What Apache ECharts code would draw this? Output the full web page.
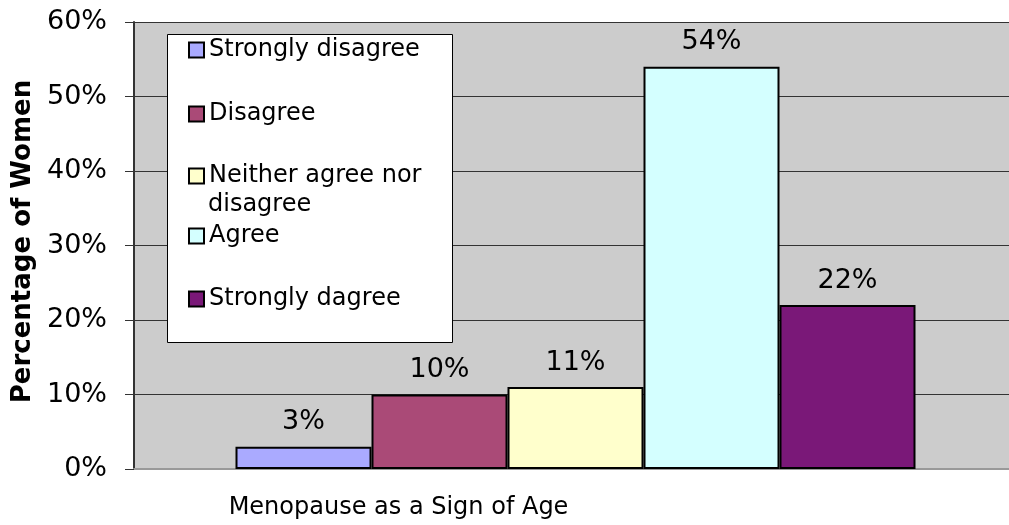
<!DOCTYPE html>
<html>
<head>
<meta charset="utf-8">
<script src="https://cdn.jsdelivr.net/npm/echarts@6/dist/echarts.min.js"></script>
<style>
  html, body { margin: 0; padding: 0; background: #fff; }
  #chart { width: 1009px; height: 525px; }
</style>
</head>
<body>
<div id="chart"></div>
<script>
const categories = ['Menopause as a Sign of Age'];
const seriesNames = ['Strongly disagree', 'Disagree', 'Neither agree nor disagree', 'Agree', 'Strongly dagree'];
const seriesValues = [3, 10, 11, 54, 22];
const seriesColors = ['#AAAAFF', '#AA4A77', '#FFFFCC', '#D4FFFF', '#7A1878'];
const yTicks = [0, 10, 20, 30, 40, 50, 60];

const FONT = 'DejaVu Sans';
// legend entry centres (y), one legend per entry so spacing can match
const legendCenters = [50, 114, 176, 236, 299];

const chart = echarts.init(document.getElementById('chart'));

const series = seriesNames.map((name, i) => ({
  name,
  type: 'bar',
  data: [seriesValues[i]],
  barWidth: 136,
  barGap: '0%',
  itemStyle: { color: seriesColors[i], borderColor: '#000', borderWidth: 2 },
  label: {
    show: true,
    position: 'top',
    distance: 11,
    formatter: '{c}%',
    color: '#000',
    fontFamily: FONT,
    fontSize: 27
  }
}));

const legends = seriesNames.map((name, i) => ({
  data: [name],
  left: 188,
  top: legendCenters[i] - 13,
  orient: 'vertical',
  padding: 0,
  itemWidth: 15,
  itemHeight: 15,
  icon: 'rect',
  selectedMode: false,
  formatter: n => (n === 'Neither agree nor disagree' ? 'Neither agree nor' : n),
  textStyle: { fontFamily: FONT, fontSize: 24, color: '#000', lineHeight: 26 }
}));

chart.setOption({
  animation: false,
  backgroundColor: '#fff',
  grid: {
    left: 134,
    top: 22,
    width: 883,
    height: 447,
    outerBoundsMode: 'none',
    show: true,
    backgroundColor: '#CCCCCC',
    borderWidth: 0
  },
  legend: legends,
  graphic: [
    {
      type: 'rect',
      z: 1,
      shape: { x: 167.5, y: 34.5, width: 285, height: 308 },
      style: { fill: '#fff', stroke: '#000', lineWidth: 1 }
    },
    {
      type: 'text',
      z: 5,
      style: {
        x: 208,
        y: 205,
        text: 'disagree',
        font: '24px "DejaVu Sans"',
        fill: '#000',
        verticalAlign: 'middle'
      }
    }
  ],
  xAxis: {
    type: 'category',
    data: categories,
    axisLine: { show: true, lineStyle: { color: '#999', width: 2 } },
    axisTick: { show: false },
    axisLabel: {
      margin: 27,
      color: '#000',
      fontFamily: FONT,
      fontSize: 24,
      padding: [0, 354, 0, 0]
    }
  },
  yAxis: {
    type: 'value',
    min: yTicks[0],
    max: yTicks[yTicks.length - 1],
    interval: 10,
    name: 'Percentage of Women',
    nameLocation: 'middle',
    nameGap: 98,
    nameTextStyle: {
      fontFamily: FONT,
      fontSize: 26,
      fontWeight: 'bold',
      color: '#000',
      padding: [0, 0, 0, 8]
    },
    axisLine: { show: true, lineStyle: { color: '#333', width: 2 } },
    axisTick: { show: true, length: 9, lineStyle: { color: '#333' } },
    axisLabel: {
      formatter: '{value}%',
      margin: 27,
      color: '#000',
      fontFamily: FONT,
      fontSize: 27
    },
    splitLine: { show: true, lineStyle: { color: '#333', width: 1 } }
  },
  series
});
</script>
</body>
</html>
